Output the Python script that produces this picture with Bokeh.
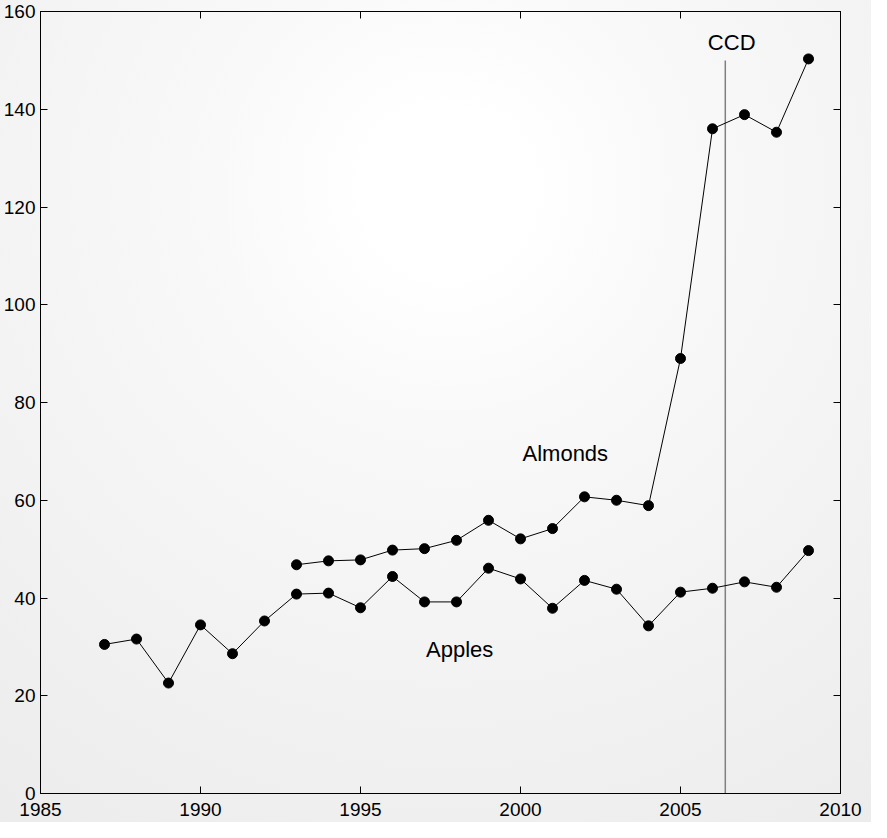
from bokeh.plotting import figure
from bokeh.models import LinearAxis, SingleIntervalTicker, Range1d, ColumnDataSource
from bokeh.embed import file_html
from bokeh.resources import INLINE
from bokeh.core.properties import value

# ---- data ----
apple_years = list(range(1987, 2010))
apple_values = [30.5, 31.6, 22.6, 34.5, 28.6, 35.3, 40.8, 41.0, 38.0, 44.4, 39.2, 39.2,
                46.1, 43.9, 37.9, 43.6, 41.8, 34.3, 41.2, 42.0, 43.3, 42.2, 49.7]
almond_years = list(range(1993, 2010))
almond_values = [46.8, 47.6, 47.8, 49.8, 50.1, 51.8, 55.9, 52.1, 54.2, 60.7, 60.0, 58.9,
                 89.0, 136.0, 138.9, 135.3, 150.3]
ccd_year = 2006.4
ccd_top = 150
x_start, x_end = 1985, 2010
y_start, y_end = 0, 160
label_texts = ["CCD", "Almonds", "Apples"]
label_x = [2006.6, 2001.4, 1998.1]
label_y = [153.6, 69.6, 29.4]

FONT = "Liberation Sans"

p = figure(width=871, height=822, output_backend="svg", toolbar_location=None,
           x_range=Range1d(x_start, x_end), y_range=Range1d(y_start, y_end),
           min_border_left=40, min_border_right=31, min_border_top=11, min_border_bottom=29,
           background_fill_color=None, border_fill_color=None,
           outline_line_color="black", outline_line_width=1)
p.styles = {"background-image": "radial-gradient(circle 800px at 447px 190px, #ffffff 0px, #ffffff 80px, #f9f9f9 230px, #f3f3f3 470px, #ebebeb 800px)"}

p.xgrid.visible = False
p.ygrid.visible = False

def style_axis(ax, labels=True, standoff=5):
    ax.axis_line_color = "black"
    ax.major_tick_in = 7
    ax.major_tick_out = 0
    ax.major_tick_line_color = "black"
    ax.minor_tick_line_color = None
    if labels:
        ax.major_label_text_font = FONT
        ax.major_label_text_font_size = "19px"
        ax.major_label_text_color = "black"
        ax.major_label_standoff = standoff
    else:
        ax.major_label_text_font_size = "1px"
        ax.major_label_text_color = None
        ax.major_label_standoff = 0

p.xaxis.ticker = SingleIntervalTicker(interval=5)
p.yaxis.ticker = SingleIntervalTicker(interval=20)
style_axis(p.xaxis[0], standoff=5)
style_axis(p.yaxis[0], standoff=1)

top_axis = LinearAxis(ticker=SingleIntervalTicker(interval=5))
style_axis(top_axis, labels=False)
p.add_layout(top_axis, "above")
right_axis = LinearAxis(ticker=SingleIntervalTicker(interval=20))
style_axis(right_axis, labels=False)
p.add_layout(right_axis, "right")

# CCD line
p.segment(x0=[ccd_year], y0=[y_start], x1=[ccd_year], y1=[ccd_top],
          line_color="#808080", line_width=1.5)

apples = ColumnDataSource(dict(x=apple_years, y=apple_values))
almonds = ColumnDataSource(dict(x=almond_years, y=almond_values))
for src in (apples, almonds):
    p.line("x", "y", source=src, line_color="black", line_width=1)
    p.scatter("x", "y", source=src, size=10, fill_color="black", line_color="black")

labels = ColumnDataSource(dict(x=label_x, y=label_y, t=label_texts))
p.text("x", "y", text="t", source=labels, text_font=value(FONT), text_font_size="22px",
       text_align="center", text_baseline="middle", text_color="black")

open("out.html", "w").write(file_html(p, INLINE))
